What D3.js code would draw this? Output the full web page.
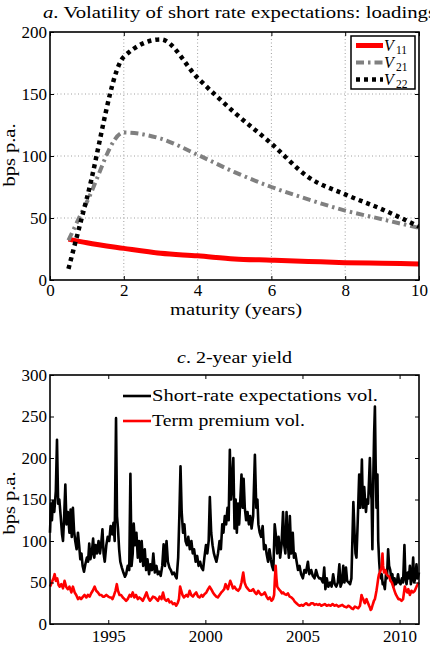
<!DOCTYPE html>
<html>
<head>
<meta charset="utf-8">
<script src="https://d3js.org/d3.v7.min.js"></script>
<style>
  body { margin: 0; background: #fff; }
  svg text { fill: #000; }
</style>
</head>
<body>
<svg id="chart" width="430" height="662" font-family="Liberation Serif"></svg>
<script>
// panel a: loadings by maturity
var maturity = [0.5, 1, 2, 3, 4, 5, 6, 7, 8, 9, 10];
var v11 = [33, 30, 25.5, 21.5, 19.5, 17, 16, 15, 14, 13.5, 13];
var v21 = [32, 63, 119, 114, 101, 87, 75, 65, 56, 49, 42];
var v22 = [9, 66, 180, 194, 163, 135, 110, 83, 69, 57, 43];
var xTicksA = [0, 2, 4, 6, 8, 10];
var yTicksA = [0, 50, 100, 150, 200];

// panel c: 2-year yield
var srYear = [1992.00,1992.05,1992.10,1992.15,1992.22,1992.30,1992.36,1992.42,1992.48,1992.55,1992.62,1992.67,1992.73,1992.79,1992.85,1992.92,
 1993.00,1993.06,1993.12,1993.18,1993.24,1993.30,1993.37,1993.44,1993.50,1993.56,1993.62,1993.68,1993.75,1993.82,1993.90,1993.96,
 1994.02,1994.08,1994.15,1994.22,1994.28,1994.35,1994.42,1994.50,1994.57,1994.63,1994.70,1994.76,1994.82,1994.90,1994.97,
 1995.05,1995.12,1995.20,1995.27,1995.33,1995.40,1995.45,1995.50,1995.56,1995.62,1995.70,1995.78,1995.86,1995.92,
 1996.00,1996.08,1996.14,1996.20,1996.26,1996.31,1996.38,1996.45,1996.52,1996.58,1996.65,1996.72,1996.80,1996.88,1996.95,
 1997.02,1997.10,1997.17,1997.25,1997.32,1997.40,1997.48,1997.55,1997.62,1997.70,1997.78,1997.85,1997.92,
 1998.00,1998.07,1998.15,1998.22,1998.30,1998.38,1998.45,1998.52,1998.60,1998.66,1998.72,1998.78,1998.85,1998.92,1998.98,
 1999.05,1999.12,1999.20,1999.28,1999.35,1999.42,1999.50,1999.58,1999.65,1999.73,1999.80,1999.88,1999.95,
 2000.03,2000.10,2000.17,2000.23,2000.30,2000.37,2000.44,2000.50,2000.57,2000.65,2000.73,2000.80,2000.87,2000.93,
 2001.00,2001.07,2001.14,2001.20,2001.26,2001.32,2001.38,2001.44,2001.50,2001.56,2001.62,2001.68,2001.74,2001.80,2001.86,2001.92,2001.97,
 2002.03,2002.10,2002.17,2002.24,2002.31,2002.38,2002.46,2002.55,2002.62,2002.68,2002.73,2002.80,2002.87,2002.95,
 2003.02,2003.10,2003.15,2003.23,2003.30,2003.37,2003.43,2003.50,2003.57,2003.64,2003.70,2003.77,2003.85,2003.92,
 2004.00,2004.06,2004.12,2004.18,2004.24,2004.30,2004.35,2004.42,2004.50,2004.56,2004.63,2004.70,2004.77,2004.85,2004.93,
 2005.02,2005.10,2005.18,2005.28,2005.35,2005.45,2005.53,2005.62,2005.70,2005.78,2005.86,2005.95,
 2006.05,2006.12,2006.18,2006.25,2006.33,2006.42,2006.50,2006.58,2006.66,2006.74,2006.82,2006.90,2006.96,
 2007.03,2007.10,2007.16,2007.24,2007.30,2007.38,2007.45,2007.52,2007.58,2007.62,2007.68,2007.73,2007.78,2007.84,2007.88,2007.92,2007.98,
 2008.02,2008.06,2008.10,2008.13,2008.18,2008.22,2008.27,2008.32,2008.38,2008.43,2008.47,2008.52,2008.56,2008.60,2008.65,2008.69,2008.73,2008.77,2008.81,2008.86,2008.90,2008.95,2008.99,
 2009.04,2009.08,2009.13,2009.18,2009.24,2009.30,2009.35,2009.41,2009.46,2009.52,2009.57,2009.63,2009.68,2009.74,2009.80,2009.86,2009.92,2009.98,
 2010.05,2010.12,2010.18,2010.25,2010.30,2010.36,2010.42,2010.48,2010.53,2010.58,2010.64,2010.70,2010.75,2010.81,2010.87,2010.93,2011.00];
var srVol = [110,145,125,148,135,160,222,145,150,130,108,100,130,168,120,135,
 110,138,105,140,112,100,90,110,95,78,85,70,63,72,80,75,
 97,78,85,103,80,95,85,100,85,95,114,85,75,95,105,
 100,118,108,122,100,248,130,115,90,75,68,62,57,60,
 70,65,181,70,85,121,95,110,80,100,75,100,70,90,65,
 78,60,72,65,85,62,70,60,63,58,70,96,70,
 100,75,68,65,60,62,58,55,80,130,190,135,110,120,100,
 95,105,90,100,85,90,75,82,70,75,68,65,80,
 95,85,100,153,110,95,85,80,75,85,100,90,120,110,
 130,120,140,125,210,150,170,200,115,150,110,145,120,150,180,140,175,
 140,125,135,120,130,115,130,204,140,150,120,110,105,118,
 90,95,85,75,90,78,70,65,120,105,85,105,80,95,
 135,95,85,135,100,80,130,85,110,80,85,75,65,70,60,
 55,65,62,75,60,65,58,55,65,58,55,55,
 50,68,42,55,45,50,45,60,48,45,50,72,45,
 50,70,50,68,52,50,48,55,110,147,110,85,80,120,150,180,140,
 165,198,150,140,165,150,135,150,145,175,200,160,150,90,180,230,262,190,140,180,100,75,62,
 55,60,48,50,42,60,55,90,70,65,55,60,45,55,48,50,60,50,
 48,55,50,95,55,48,62,55,70,48,55,80,50,55,72,55,62];

var tpYear = [1992.00,1992.06,1992.12,1992.18,1992.24,1992.30,1992.37,1992.44,1992.50,1992.58,1992.67,1992.75,1992.83,1992.92,
 1993.00,1993.10,1993.18,1993.27,1993.35,1993.44,1993.52,1993.60,1993.70,1993.78,1993.87,1993.95,
 1994.04,1994.12,1994.20,1994.30,1994.38,1994.47,1994.56,1994.64,1994.72,1994.80,1994.90,
 1995.00,1995.08,1995.15,1995.22,1995.30,1995.37,1995.44,1995.50,1995.58,1995.66,1995.75,1995.84,1995.92,
 1996.00,1996.10,1996.18,1996.26,1996.34,1996.43,1996.52,1996.60,1996.70,1996.78,1996.88,1996.97,
 1997.05,1997.14,1997.22,1997.30,1997.40,1997.48,1997.56,1997.65,1997.74,1997.82,1997.90,1997.99,
 1998.08,1998.16,1998.25,1998.33,1998.42,1998.50,1998.57,1998.64,1998.70,1998.76,1998.82,1998.90,
 1999.02,1999.10,1999.19,1999.27,1999.36,1999.45,1999.53,1999.62,1999.70,1999.80,1999.87,1999.96,
 2000.05,2000.14,2000.22,2000.30,2000.39,2000.48,2000.56,2000.64,2000.73,2000.82,2000.90,2000.97,
 2001.04,2001.10,2001.16,2001.22,2001.28,2001.35,2001.42,2001.50,2001.58,2001.69,2001.78,2001.86,2001.95,
 2002.02,2002.10,2002.20,2002.28,2002.37,2002.46,2002.55,2002.63,2002.72,2002.80,2002.89,2002.98,
 2003.06,2003.15,2003.23,2003.32,2003.40,2003.48,2003.54,2003.58,2003.62,2003.66,2003.70,2003.78,2003.86,2003.94,
 2004.00,2004.08,2004.17,2004.25,2004.34,2004.43,2004.52,2004.60,2004.69,2004.78,2004.86,2004.95,
 2005.03,2005.12,2005.20,2005.28,2005.37,2005.45,2005.54,2005.62,2005.71,2005.80,2005.88,2005.97,
 2006.06,2006.15,2006.25,2006.35,2006.45,2006.55,2006.65,2006.75,2006.85,2006.95,
 2007.05,2007.15,2007.27,2007.36,2007.44,2007.52,2007.61,2007.70,2007.78,2007.87,2007.96,
 2008.00,2008.04,2008.08,2008.13,2008.17,2008.21,2008.26,2008.30,2008.34,2008.38,2008.43,2008.47,2008.51,2008.55,2008.60,2008.64,2008.68,2008.73,2008.77,2008.81,2008.86,2008.90,2008.94,2008.98,
 2009.03,2009.07,2009.10,2009.12,2009.15,2009.20,2009.27,2009.33,2009.40,2009.47,2009.53,2009.60,2009.67,2009.74,2009.80,2009.87,2009.94,
 2010.01,2010.10,2010.18,2010.24,2010.27,2010.33,2010.40,2010.45,2010.53,2010.61,2010.70,2010.78,2010.87,2010.94,2011.00];
var tpVol = [45,48,52,55,60,52,55,47,45,48,43,52,45,42,
 45,38,45,38,35,30,32,30,33,35,32,35,
 33,37,40,45,40,38,35,35,33,33,35,
 33,32,32,30,35,40,48,40,35,35,32,30,28,
 30,35,33,38,32,35,30,32,30,28,33,38,
 32,28,30,33,32,30,28,33,30,38,30,28,
 30,26,27,24,25,22,25,30,45,40,35,32,
 35,33,40,35,33,36,38,33,32,35,33,36,
 38,42,45,42,38,35,33,32,35,38,40,42,
 48,45,42,47,52,48,43,45,42,40,43,50,62,
 50,45,42,40,40,42,38,36,40,37,35,36,
 38,33,30,32,28,30,35,55,70,55,45,42,40,37,
 38,36,35,37,33,32,30,27,25,23,22,23,
 22,24,25,23,23,25,25,23,24,23,24,22,
 23,24,22,23,22,24,22,23,21,22,
 23,21,20,22,21,19,18,21,20,19,22,
 28,35,32,30,27,25,28,30,27,25,22,20,17,18,22,25,28,30,35,40,48,55,60,62,
 65,68,78,85,70,62,65,60,58,57,52,50,45,40,36,33,30,
 30,28,30,40,45,40,38,42,35,40,38,40,45,48,50];
var xTicksC = [1995, 2000, 2005, 2010];
var yTicksC = [0, 50, 100, 150, 200, 250, 300];

var FONT = '"Liberation Serif", "Times New Roman", serif';
var svg = d3.select('#chart');
var L = 50, R = 419;

// serif text stretched to the wider Computer Modern look
function label(g, x, y, size, width, anchor) {
  return g.append('text').attr('x', x).attr('y', y)
    .attr('text-anchor', anchor || 'start')
    .attr('textLength', width).attr('lengthAdjust', 'spacingAndGlyphs')
    .style('font-size', size + 'px').style('font-family', FONT);
}

function frame(g, x, y, top, bottom, xt, yt, xpad) {
  g.append('g').attr('transform', 'translate(0,' + bottom + ')')
    .call(d3.axisBottom(x).tickValues(xt).tickSize(-4).tickSizeOuter(0).tickPadding(xpad).tickFormat(d3.format('d')))
    .call(a => a.select('.domain').remove());
  g.append('g').attr('transform', 'translate(0,' + top + ')')
    .call(d3.axisTop(x).tickValues(xt).tickSize(-4).tickSizeOuter(0).tickFormat(''))
    .call(a => a.select('.domain').remove());
  g.append('g').attr('transform', 'translate(' + L + ',0)')
    .call(d3.axisLeft(y).tickValues(yt).tickSize(-4).tickSizeOuter(0).tickPadding(3))
    .call(a => a.select('.domain').remove());
  g.append('g').attr('transform', 'translate(' + R + ',0)')
    .call(d3.axisRight(y).tickValues(yt).tickSize(-4).tickSizeOuter(0).tickFormat(''))
    .call(a => a.select('.domain').remove());
  g.selectAll('g').attr('font-family', FONT);
  g.selectAll('.tick text').style('font-size', '17px').style('font-family', FONT);
  g.selectAll('.tick line').attr('stroke', '#000').attr('stroke-width', 1);
  g.append('rect').attr('x', L).attr('y', top).attr('width', R - L).attr('height', bottom - top)
    .attr('fill', 'none').attr('stroke', '#000').attr('stroke-width', 1.6);
}

// ---------- panel a ----------
var xA = d3.scaleLinear().domain([0, 10]).range([L, R]);
var yA = d3.scaleLinear().domain([0, 200]).range([280, 32]);
var ga = svg.append('g');

ga.append('defs').append('clipPath').attr('id', 'clipA')
  .append('rect').attr('x', L).attr('y', 32).attr('width', R - L).attr('height', 248);

ga.append('g').selectAll('line').data([2, 4, 6, 8]).enter().append('line')
  .attr('x1', d => xA(d)).attr('x2', d => xA(d)).attr('y1', 32).attr('y2', 280)
  .attr('stroke', '#888').attr('stroke-width', 0.8).attr('stroke-dasharray', '1,2.5');
ga.append('g').selectAll('line').data([50, 100, 150]).enter().append('line')
  .attr('x1', L).attr('x2', R).attr('y1', d => yA(d)).attr('y2', d => yA(d))
  .attr('stroke', '#888').attr('stroke-width', 0.8).attr('stroke-dasharray', '1,2.5');

var lineA = d3.line().x(d => xA(d[0])).y(d => yA(d[1])).curve(d3.curveMonotoneX);
var seriesA = [
  { vals: v11, color: '#ff0000', w: 5, dash: null },
  { vals: v21, color: '#808080', w: 4, dash: '8,4,2.5,4' },
  { vals: v22, color: '#000000', w: 4.5, dash: '4,4' }
];
seriesA.forEach(function(s) {
  ga.append('path').attr('clip-path', 'url(#clipA)')
    .attr('d', lineA(maturity.map((m, i) => [m, s.vals[i]])))
    .attr('fill', 'none').attr('stroke', s.color).attr('stroke-width', s.w)
    .attr('stroke-dasharray', s.dash);
});

frame(ga, xA, yA, 32, 280, xTicksA, yTicksA, 4);

var ta = label(ga, 43, 18, 17.5, 393);
ta.append('tspan').attr('font-style', 'italic').text('a');
ta.append('tspan').text('. Volatility of short rate expectations: loadings');
label(ga, 236, 315, 17, 132, 'middle').text('maturity (years)');
label(ga, 0, 0, 17, 63, 'middle').attr('transform', 'translate(15,155) rotate(-90)').text('bps p.a.');

// legend a
var lg = ga.append('g').attr('transform', 'translate(351,36)');
lg.append('rect').attr('width', 64).attr('height', 53).attr('fill', '#fff')
  .attr('stroke', '#000').attr('stroke-width', 1.5);
var legA = ['11', '21', '22'];
legA.forEach(function(d, i) {
  var s = seriesA[i], yy = 9.5 + i * 17;
  lg.append('line').attr('x1', 5).attr('x2', 32).attr('y1', yy).attr('y2', yy)
    .attr('stroke', s.color).attr('stroke-width', s.w).attr('stroke-dasharray', s.dash);
  lg.append('text').attr('x', 33).attr('y', yy + 5).style('font-size', '16px').style('font-family', FONT)
    .attr('font-style', 'italic').text('V');
  lg.append('text').attr('x', 45).attr('y', yy + 8).style('font-size', '11.5px').style('font-family', FONT)
    .text(d);
});

// ---------- panel c ----------
var xC = d3.scaleLinear().domain([1992, 2011]).range([L, R]);
var yC = d3.scaleLinear().domain([0, 300]).range([624, 375]);
var gc = svg.append('g');

var lineC = d3.line().x(d => xC(d[0])).y(d => yC(d[1]));
gc.append('path').attr('d', lineC(srYear.map((t, i) => [t, srVol[i]])))
  .attr('fill', 'none').attr('stroke', '#000').attr('stroke-width', 2.6).attr('stroke-linejoin', 'round');
gc.append('path').attr('d', lineC(tpYear.map((t, i) => [t, tpVol[i]])))
  .attr('fill', 'none').attr('stroke', '#ff0000').attr('stroke-width', 2.6).attr('stroke-linejoin', 'round');

frame(gc, xC, yC, 375, 624, xTicksC, yTicksC, 6);

var tc = label(gc, 234.5, 363, 17.5, 115, 'middle');
tc.append('tspan').attr('font-style', 'italic').text('c');
tc.append('tspan').text('. 2-year yield');
label(gc, 0, 0, 17, 63, 'middle').attr('transform', 'translate(15,503) rotate(-90)').text('bps p.a.');

var legC = [['Short-rate expectations vol.', '#000', 226], ['Term premium vol.', '#ff0000', 153]];
legC.forEach(function(d, i) {
  var yy = 396 + i * 25;
  gc.append('line').attr('x1', 123).attr('x2', 151).attr('y1', yy).attr('y2', yy)
    .attr('stroke', d[1]).attr('stroke-width', 2.6);
  label(gc, 152, yy + 4.5, 17, d[2]).text(d[0]);
});
</script>
</body>
</html>
